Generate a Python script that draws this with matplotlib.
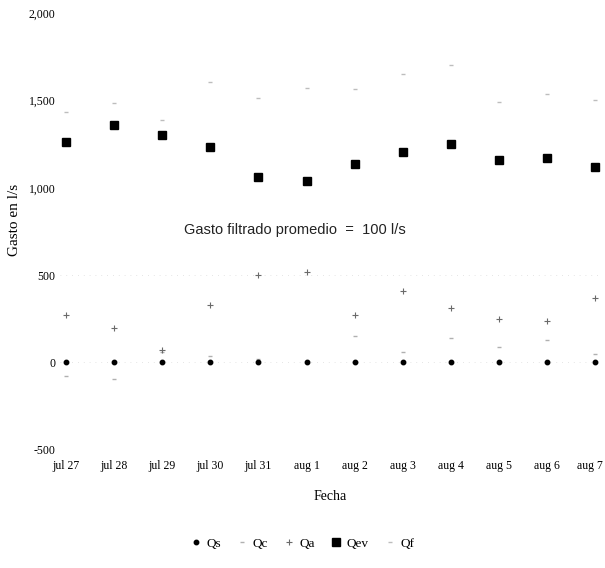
import matplotlib.pyplot as plt
import numpy as np
from matplotlib.transforms import ScaledTranslation

fechas = ['jul 27', 'jul 28', 'jul 29', 'jul 30', 'jul 31', 'aug 1',
          'aug 2', 'aug 3', 'aug 4', 'aug 5', 'aug 6', 'aug 7']

qs = [0, 0, 0, 0, 0, 0, 0, 0, 0, 0, 0, 0]
qc = [-80, -97, 60, 40, 20, 10, 150, 60, 140, 90, 130, 50]
qa = [274, 200, 69, 331, 500, 520, 274, 411, 314, 251, 240, 371]
qev = [1263, 1360, 1303, 1234, 1063, 1040, 1137, 1206, 1251, 1160, 1171, 1120]
qf = [1434, 1486, 1389, 1606, 1514, 1571, 1566, 1651, 1703, 1491, 1537, 1503]

x = np.arange(len(fechas))

fig = plt.figure(figsize=(6.05, 5.68), dpi=100)
ax = fig.add_axes([0.099, 0.208, 0.893, 0.769])

# faint scan-like guide lines
for yv in [500, 0, -500]:
    ax.axhline(yv, color='#dcdcdc', lw=0.6, ls=(0, (1, 6)), zorder=0)

ax.plot(x, qf, ls='none', marker='_', ms=3.5, color='#bdbdbd', label='Qf')
ax.plot(x, qc, ls='none', marker='_', ms=3.5, color='#b0b0b0', label='Qc')
ax.plot(x, qa, ls='none', marker='+', ms=4, mew=0.8, color='#6a6a6a', label='Qa')
ax.plot(x, qev, ls='none', marker='s', ms=5.3, color='black', label='Qev')
ax.plot(x, qs, ls='none', marker='o', ms=3.2, color='black', label='Qs')

ax.set_xlim(-0.125, 11.1)
ax.set_ylim(-500, 2000)
ax.set_yticks([-500, 0, 500, 1000, 1500, 2000])
ax.set_yticklabels(['-500', '0', '500', '1,000', '1,500', '2,000'])
ax.set_xticks(x)
ax.set_xticklabels(fechas)
for s in ax.spines.values():
    s.set_visible(False)
ax.tick_params(length=0, labelsize=8.5)
ax.tick_params(axis='y', pad=3)
ax.tick_params(axis='x', pad=7)
for t in ax.get_xticklabels() + ax.get_yticklabels():
    t.set_family('Liberation Serif')
last = ax.get_xticklabels()[-1]
last.set_transform(last.get_transform() + ScaledTranslation(-0.05, 0, fig.dpi_scale_trans))

ax.set_ylabel('Gasto en l/s', family='Liberation Serif', fontsize=11)
ax.yaxis.set_label_coords(-0.072, 0.526)
ax.set_xlabel('Fecha', family='Liberation Serif', fontsize=10, labelpad=13)

ax.text(4.76, 760, 'Gasto filtrado promedio  =  100 l/s', family='Liberation Sans',
        fontsize=10.5, ha='center', va='center', color='#222222')

h, l = ax.get_legend_handles_labels()
order = ['Qs', 'Qc', 'Qa', 'Qev', 'Qf']
hm = dict(zip(l, h))
fig.legend([hm[k] for k in order], order, loc='center', bbox_to_anchor=(0.5, 0.043),
           ncol=5, frameon=False, handlelength=0.8, handletextpad=0.4, columnspacing=1.2,
           prop={'family': 'Liberation Serif', 'size': 9.5})

fig.savefig('out.png', dpi=100)
